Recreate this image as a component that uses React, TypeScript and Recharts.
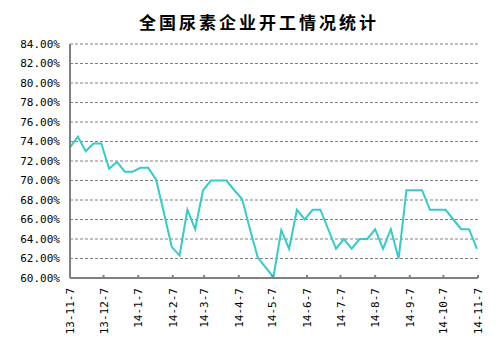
import { LineChart, Line, XAxis, YAxis, CartesianGrid } from "recharts";

const title = "全国尿素企业开工情况统计";

const weekDates = [
  "2013-11-07", "2013-11-14", "2013-11-21", "2013-11-28",
  "2013-12-05", "2013-12-12", "2013-12-19", "2013-12-26",
  "2014-01-02", "2014-01-09", "2014-01-16", "2014-01-23", "2014-01-30",
  "2014-02-06", "2014-02-13", "2014-02-20", "2014-02-27",
  "2014-03-06", "2014-03-13", "2014-03-20", "2014-03-27",
  "2014-04-03", "2014-04-10", "2014-04-17", "2014-04-24",
  "2014-05-01", "2014-05-08", "2014-05-15", "2014-05-22", "2014-05-29",
  "2014-06-05", "2014-06-12", "2014-06-19", "2014-06-26",
  "2014-07-03", "2014-07-10", "2014-07-17", "2014-07-24", "2014-07-31",
  "2014-08-07", "2014-08-14", "2014-08-21", "2014-08-28",
  "2014-09-04", "2014-09-11", "2014-09-18", "2014-09-25",
  "2014-10-02", "2014-10-09", "2014-10-16", "2014-10-23", "2014-10-30",
  "2014-11-06",
];

// 开工率 (%)
const rates = [
  73.4, 74.5, 73.0, 73.8,
  73.8, 71.2, 71.9, 70.9,
  70.9, 71.3, 71.3, 70.1, 66.7,
  63.2, 62.3, 67.0, 65.0,
  69.0, 70.0, 70.0, 70.0,
  69.0, 68.1, 65.0, 62.1,
  61.1, 60.1, 64.9, 63.0, 67.0,
  66.0, 67.0, 67.0, 65.0,
  63.0, 64.0, 63.0, 64.0, 64.0,
  65.0, 63.0, 65.0, 62.0,
  69.0, 69.0, 69.0, 67.0,
  67.0, 67.0, 66.0, 65.0, 65.0,
  63.0,
];

const tickDates = [
  "2013-11-07", "2013-12-07", "2014-01-07", "2014-02-07", "2014-03-07",
  "2014-04-07", "2014-05-07", "2014-06-07", "2014-07-07", "2014-08-07",
  "2014-09-07", "2014-10-07", "2014-11-07",
];
const tickLabels = [
  "13-11-7", "13-12-7", "14-1-7", "14-2-7", "14-3-7", "14-4-7", "14-5-7",
  "14-6-7", "14-7-7", "14-8-7", "14-9-7", "14-10-7", "14-11-7",
];

const yTicks = [60, 62, 64, 66, 68, 70, 72, 74, 76, 78, 80, 82, 84];

const DAY = 86400000;
const start = Date.parse(weekDates[0]);
const toDay = (d: string) => Math.round((Date.parse(d) - start) / DAY);

const data = weekDates.map((d, i) => ({ day: toDay(d), rate: rates[i] }));
const xTicks = tickDates.map(toDay);

const tickFont = "'DejaVu Sans Mono', monospace";

function XTick({ x, y, index }: any) {
  return (
    <g transform={`translate(${x},${y})`}>
      <text
        transform="rotate(-90)"
        textAnchor="end"
        dy={4}
        fontSize={11}
        fontFamily={tickFont}
        fill="#000"
      >
        {tickLabels[index]}
      </text>
    </g>
  );
}

export default function App() {
  return (
    <div style={{ position: "absolute", left: 0, top: 0, width: 503, height: 351, background: "#fff" }}>
      <div
        style={{
          position: "absolute",
          left: 0,
          top: 12,
          width: 518,
          textAlign: "center",
          fontFamily: "'Noto Sans CJK SC', sans-serif",
          fontWeight: "bold",
          fontSize: 17,
          lineHeight: "20px",
          letterSpacing: 3,
          color: "#000",
        }}
      >
        {title}
      </div>
      <LineChart
        width={503}
        height={351}
        data={data}
        margin={{ top: 44, right: 25, bottom: 13, left: 0 }}
      >
        <CartesianGrid vertical={false} stroke="#808080" strokeDasharray="3 2" />
        <XAxis
          dataKey="day"
          type="number"
          domain={[0, 365]}
          ticks={xTicks}
          interval={0}
          height={60}
          stroke="#808080"
          strokeWidth={2}
          tickSize={-3}
          tickMargin={13}
          tick={<XTick />}
        />
        <YAxis
          type="number"
          domain={[60, 84]}
          ticks={yTicks}
          interval={0}
          width={70}
          stroke="#808080"
          strokeWidth={2}
          tickLine={false}
          tickSize={0}
          tickMargin={10}
          tick={{ fontSize: 11, fontFamily: tickFont, fill: "#000" }}
          tickFormatter={(v: number) => `${v.toFixed(2)}%`}
        />
        <Line
          type="linear"
          dataKey="rate"
          stroke="#33CCCC"
          strokeWidth={2}
          dot={false}
          isAnimationActive={false}
        />
      </LineChart>
    </div>
  );
}
